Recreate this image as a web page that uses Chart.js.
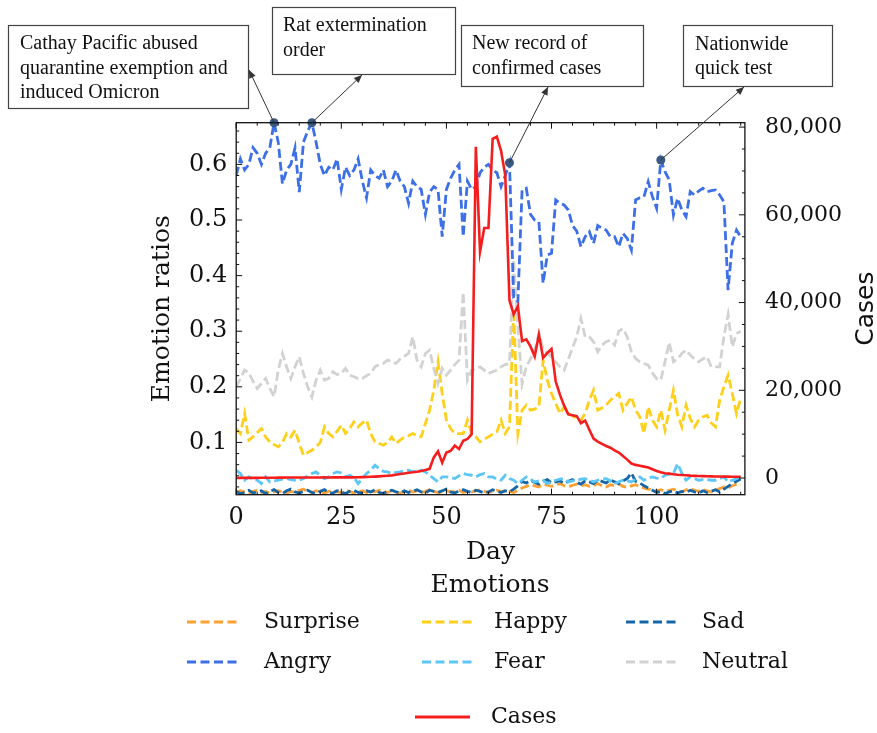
<!DOCTYPE html>
<html>
<head>
<meta charset="utf-8">
<script src="https://cdn.jsdelivr.net/npm/chart.js@4.4.0/dist/chart.umd.min.js"></script>
<style>
  html, body { margin: 0; padding: 0; background: #fff; }
  #wrap { width: 877px; height: 733px; }
</style>
</head>
<body>
<div id="wrap"><canvas id="emotionChart" width="877" height="733"></canvas></div>
<script>
const days = [
    0, 1, 2, 3, 4, 5, 6, 7, 8, 9, 10, 11, 12, 13, 14, 15, 16, 17, 18, 19,
    20, 21, 22, 23, 24, 25, 26, 27, 28, 29, 30, 31, 32, 33, 34, 35, 36, 37, 38, 39,
    40, 41, 42, 43, 44, 45, 46, 47, 48, 49, 50, 51, 52, 53, 54, 55, 56, 57, 58, 59,
    60, 61, 62, 63, 64, 65, 66, 67, 68, 69, 70, 71, 72, 73, 74, 75, 76, 77, 78, 79,
    80, 81, 82, 83, 84, 85, 86, 87, 88, 89, 90, 91, 92, 93, 94, 95, 96, 97, 98, 99,
    100, 101, 102, 103, 104, 105, 106, 107, 108, 109, 110, 111, 112, 113, 114, 115, 116, 117, 118, 119, 120
];

const cases = [
    20, 25, 30, 35, 40, 45, 55, 60, 70, 80,
    90, 100, 110, 120, 120, 130, 120, 110, 120, 130,
    130, 140, 130, 140, 150, 150, 160, 150, 160, 170,
    200, 240, 280, 330, 380, 450, 520, 600, 750, 900,
    1050, 1200, 1300, 1450, 1600, 1850, 2100, 4700, 6100, 3500,
    5800, 6200, 7400, 6600, 8500, 8900, 10000, 75500, 51600, 57000,
    57000, 77300, 77800, 74600, 69000, 40500, 37300, 39200, 31200, 31600,
    30000, 27700, 32700, 27400, 28500, 29400, 22000, 19000, 16500, 14500,
    14300, 14100, 12500, 13100, 11000, 9000, 8300, 7800, 7300, 6900,
    6300, 5800, 5000, 4200, 3300, 3000, 2800, 2600, 2400, 2000,
    1600, 1300, 1100, 1000, 850, 750, 700, 650, 550, 500,
    460, 430, 400, 380, 360, 340, 330, 310, 300, 290, 280
];

const angry = [
    0.58, 0.61, 0.59, 0.60, 0.63, 0.62, 0.60, 0.62, 0.63, 0.675,
    0.64, 0.565, 0.59, 0.60, 0.63, 0.55, 0.64, 0.66, 0.675, 0.64,
    0.60, 0.58, 0.595, 0.59, 0.61, 0.555, 0.595, 0.58, 0.59, 0.61,
    0.57, 0.54, 0.59, 0.58, 0.575, 0.59, 0.56, 0.57, 0.59, 0.57,
    0.56, 0.53, 0.57, 0.56, 0.555, 0.51, 0.55, 0.56, 0.555, 0.47,
    0.555, 0.575, 0.59, 0.60, 0.47, 0.57, 0.555, 0.56, 0.585, 0.595,
    0.60, 0.59, 0.585, 0.56, 0.58, 0.603, 0.36, 0.353, 0.554, 0.557,
    0.51, 0.50, 0.497, 0.386, 0.437, 0.44, 0.536, 0.53, 0.527, 0.518,
    0.49, 0.48, 0.452, 0.47, 0.479, 0.458, 0.49, 0.485, 0.482, 0.47,
    0.47, 0.452, 0.476, 0.467, 0.446, 0.536, 0.54, 0.542, 0.569, 0.542,
    0.521, 0.608, 0.587, 0.572, 0.509, 0.539, 0.518, 0.506, 0.551, 0.545,
    0.552, 0.557, 0.551, 0.553, 0.554, 0.545, 0.533, 0.374, 0.458, 0.482, 0.47
];

const neutral = [
    0.20, 0.215, 0.23, 0.225, 0.21, 0.197, 0.206, 0.215, 0.197, 0.182,
    0.23, 0.26, 0.236, 0.215, 0.236, 0.254, 0.224, 0.20, 0.182, 0.212,
    0.23, 0.212, 0.215, 0.227, 0.222, 0.224, 0.233, 0.221, 0.218, 0.215,
    0.215, 0.22, 0.224, 0.236, 0.24, 0.242, 0.248, 0.245, 0.242, 0.25,
    0.255, 0.26, 0.29, 0.248, 0.236, 0.26, 0.266, 0.233, 0.206, 0.233,
    0.221, 0.23, 0.24, 0.248, 0.37, 0.212, 0.23, 0.232, 0.236, 0.23,
    0.224, 0.227, 0.23, 0.236, 0.24, 0.242, 0.43, 0.308, 0.206, 0.236,
    0.25, 0.266, 0.296, 0.269, 0.26, 0.254, 0.245, 0.236, 0.23, 0.25,
    0.27, 0.29, 0.323, 0.29, 0.29, 0.281, 0.263, 0.275, 0.281, 0.284,
    0.275, 0.30, 0.305, 0.29, 0.263, 0.251, 0.245, 0.242, 0.239, 0.225,
    0.215, 0.212, 0.245, 0.28, 0.245, 0.25, 0.26, 0.266, 0.257, 0.25,
    0.245, 0.25, 0.254, 0.236, 0.236, 0.236, 0.29, 0.33, 0.272, 0.296, 0.30
];

const happy = [
    0.125, 0.116, 0.152, 0.104, 0.11, 0.118, 0.125, 0.11, 0.101, 0.096,
    0.092, 0.10, 0.116, 0.11, 0.122, 0.098, 0.077, 0.082, 0.086, 0.092,
    0.10, 0.128, 0.116, 0.11, 0.12, 0.131, 0.116, 0.125, 0.137, 0.128,
    0.135, 0.14, 0.116, 0.101, 0.098, 0.095, 0.10, 0.11, 0.098, 0.104,
    0.11, 0.112, 0.116, 0.112, 0.11, 0.134, 0.158, 0.194, 0.245, 0.188,
    0.14, 0.125, 0.116, 0.116, 0.116, 0.14, 0.116, 0.11, 0.101, 0.106,
    0.11, 0.115, 0.119, 0.14, 0.116, 0.128, 0.34, 0.116, 0.158, 0.167,
    0.158, 0.16, 0.164, 0.248, 0.212, 0.188, 0.17, 0.152, 0.164, 0.152,
    0.148, 0.143, 0.14, 0.152, 0.176, 0.194, 0.158, 0.162, 0.167, 0.176,
    0.182, 0.188, 0.158, 0.17, 0.182, 0.158, 0.146, 0.116, 0.164, 0.14,
    0.128, 0.158, 0.122, 0.158, 0.194, 0.15, 0.128, 0.167, 0.143, 0.128,
    0.14, 0.146, 0.149, 0.135, 0.128, 0.176, 0.20, 0.221, 0.188, 0.152, 0.179
];

const fear = [
    0.05, 0.044, 0.032, 0.038, 0.034, 0.032, 0.026, 0.038, 0.029, 0.031,
    0.032, 0.034, 0.035, 0.033, 0.032, 0.032, 0.035, 0.04, 0.044, 0.047,
    0.04, 0.035, 0.038, 0.044, 0.047, 0.045, 0.038, 0.041, 0.037, 0.026,
    0.035, 0.044, 0.05, 0.059, 0.053, 0.048, 0.047, 0.044, 0.046, 0.047,
    0.049, 0.05, 0.047, 0.049, 0.05, 0.047, 0.041, 0.035, 0.029, 0.038,
    0.038, 0.037, 0.035, 0.04, 0.044, 0.042, 0.041, 0.038, 0.042, 0.044,
    0.038, 0.038, 0.034, 0.032, 0.041, 0.035, 0.032, 0.026, 0.032, 0.038,
    0.034, 0.029, 0.031, 0.032, 0.026, 0.029, 0.032, 0.034, 0.035, 0.029,
    0.031, 0.032, 0.034, 0.035, 0.032, 0.029, 0.032, 0.034, 0.035, 0.031,
    0.026, 0.029, 0.032, 0.031, 0.029, 0.034, 0.038, 0.032, 0.036, 0.038,
    0.036, 0.035, 0.041, 0.043, 0.044, 0.062, 0.045, 0.032, 0.038, 0.035,
    0.032, 0.033, 0.033, 0.032, 0.032, 0.035, 0.038, 0.029, 0.032, 0.035, 0.038
];

const sad = [
    0.012, 0.008, 0.01, 0.014, 0.009, 0.011, 0.013, 0.008, 0.012, 0.015,
    0.01, 0.008, 0.013, 0.016, 0.011, 0.009, 0.012, 0.014, 0.01, 0.008,
    0.012, 0.015, 0.01, 0.009, 0.013, 0.011, 0.008, 0.012, 0.014, 0.01,
    0.009, 0.013, 0.011, 0.015, 0.01, 0.008, 0.012, 0.014, 0.011, 0.009,
    0.013, 0.01, 0.012, 0.015, 0.011, 0.009, 0.014, 0.012, 0.01, 0.013,
    0.016, 0.011, 0.009, 0.013, 0.015, 0.012, 0.01, 0.014, 0.012, 0.009,
    0.011, 0.015, 0.012, 0.01, 0.013, 0.011, 0.016, 0.022, 0.03, 0.027,
    0.032, 0.028, 0.025, 0.03, 0.033, 0.027, 0.029, 0.031, 0.026, 0.03,
    0.033, 0.028, 0.025, 0.031, 0.029, 0.026, 0.032, 0.03, 0.027, 0.033,
    0.029, 0.026, 0.031, 0.035, 0.045, 0.03, 0.027, 0.022, 0.018, 0.014,
    0.01, 0.012, 0.008, 0.011, 0.013, 0.009, 0.012, 0.01, 0.014, 0.011,
    0.009, 0.013, 0.01, 0.012, 0.015, 0.011, 0.016, 0.021, 0.026, 0.03, 0.034
];

const surprise = [
    0.01, 0.013, 0.011, 0.009, 0.012, 0.014, 0.01, 0.012, 0.009, 0.011,
    0.013, 0.011, 0.009, 0.012, 0.01, 0.014, 0.016, 0.012, 0.01, 0.013,
    0.011, 0.009, 0.012, 0.014, 0.011, 0.01, 0.013, 0.012, 0.009, 0.011,
    0.013, 0.01, 0.012, 0.011, 0.014, 0.012, 0.01, 0.013, 0.011, 0.009,
    0.012, 0.014, 0.011, 0.013, 0.01, 0.012, 0.015, 0.012, 0.01, 0.011,
    0.013, 0.011, 0.012, 0.014, 0.01, 0.012, 0.011, 0.013, 0.015, 0.012,
    0.01, 0.012, 0.014, 0.011, 0.013, 0.012, 0.01, 0.014, 0.018, 0.021,
    0.024, 0.022, 0.02, 0.025, 0.023, 0.021, 0.024, 0.026, 0.022, 0.02,
    0.023, 0.025, 0.022, 0.024, 0.021, 0.023, 0.026, 0.022, 0.02, 0.024,
    0.022, 0.025, 0.021, 0.019, 0.022, 0.024, 0.02, 0.018, 0.016, 0.015,
    0.013, 0.015, 0.012, 0.014, 0.016, 0.013, 0.011, 0.015, 0.017, 0.014,
    0.012, 0.015, 0.013, 0.011, 0.014, 0.017, 0.02, 0.018, 0.022, 0.025, 0.023
];

// annotated events (on the Angry curve)
const eventDays = [9, 18, 65, 101];
const eventValues = [0.675, 0.675, 0.603, 0.608];
const eventTexts = [
    ['Cathay Pacific abused', 'quarantine exemption and', 'induced Omicron'],
    ['Rat extermination', 'order'],
    ['New record of', 'confirmed cases'],
    ['Nationwide', 'quick test']
];

const dayTicks = [0, 25, 50, 75, 100];
const ratioTicks = [0.1, 0.2, 0.3, 0.4, 0.5, 0.6];
const caseTicks = [0, 20000, 40000, 60000, 80000];

const colors = {
    surprise: '#ffa033', happy: '#ffcf1a', sad: '#1566a8',
    angry: '#3d6fe6', fear: '#5cc6f7', neutral: '#d2d2d2',
    cases: '#f51d1d', event: '#3a5a84'
};

const pts = arr => days.map((d, i) => ({ x: d, y: arr[i] }));

function emotion(label, arr, color) {
    return {
        label: label, data: pts(arr), yAxisID: 'y',
        borderColor: color, borderWidth: 2.8, borderDash: [9, 4],
        pointRadius: 0, tension: 0, fill: false
    };
}

// boxes + arrows for the events
const eventBoxes = [
    { x: 8, y: 25, w: 240, h: 83, tx: 20, lines: [44, 68.5, 93], tip: [249, 70] },
    { x: 272, y: 7, w: 183, h: 67, tx: 283, lines: [26, 51], tip: [362, 75] },
    { x: 461, y: 25, w: 182, h: 61, tx: 472, lines: [44, 69], tip: [548, 87] },
    { x: 683, y: 25, w: 149, h: 61, tx: 695, lines: [45, 69], tip: [744, 87] }
];

const annotationPlugin = {
    id: 'annotations',
    afterDraw(chart) {
        const { ctx, scales: { x, y } } = chart;
        ctx.save();
        eventBoxes.forEach((b, i) => {
            const px = x.getPixelForValue(eventDays[i]);
            const py = y.getPixelForValue(eventValues[i]);
            const [tx, ty] = b.tip;
            ctx.strokeStyle = '#333';
            ctx.fillStyle = '#333';
            ctx.lineWidth = 1;
            ctx.beginPath();
            ctx.moveTo(px, py);
            ctx.lineTo(tx, ty);
            ctx.stroke();
            const ang = Math.atan2(ty - py, tx - px);
            ctx.beginPath();
            ctx.moveTo(tx, ty);
            ctx.lineTo(tx - 8 * Math.cos(ang) + 3.5 * Math.sin(ang), ty - 8 * Math.sin(ang) - 3.5 * Math.cos(ang));
            ctx.lineTo(tx - 8 * Math.cos(ang) - 3.5 * Math.sin(ang), ty - 8 * Math.sin(ang) + 3.5 * Math.cos(ang));
            ctx.closePath();
            ctx.fill();

            ctx.fillStyle = '#fff';
            ctx.fillRect(b.x, b.y, b.w, b.h);
            ctx.strokeStyle = '#444';
            ctx.lineWidth = 1.2;
            ctx.strokeRect(b.x + 0.5, b.y + 0.5, b.w, b.h);
            ctx.fillStyle = '#111';
            ctx.font = '20px "Liberation Serif"';
            ctx.textAlign = 'left';
            ctx.textBaseline = 'middle';
            eventTexts[i].forEach((t, j) => ctx.fillText(t, b.tx, b.lines[j]));
        });
        ctx.restore();
    }
};

// matplotlib-like frame with inward ticks on all four sides
const framePlugin = {
    id: 'frame',
    afterDatasetsDraw(chart) {
        const { ctx, chartArea: a, scales: { x, y, y2 } } = chart;
        ctx.save();
        ctx.strokeStyle = '#111';
        ctx.lineWidth = 1.3;
        ctx.strokeRect(a.left, a.top, a.right - a.left, a.bottom - a.top);
        ctx.lineWidth = 1;
        const seg = (x1, y1, x2, y2) => { ctx.beginPath(); ctx.moveTo(x1, y1); ctx.lineTo(x2, y2); ctx.stroke(); };
        for (let d = 0; d <= 120; d += 5) {
            const px = x.getPixelForValue(d);
            const len = d % 25 === 0 ? 6 : 3;
            seg(px, a.bottom, px, a.bottom - len);
            seg(px, a.top, px, a.top + len);
        }
        for (let v = 0.02; v < 0.67; v += 0.02) {
            const py = y.getPixelForValue(v);
            const len = Math.abs(v * 10 - Math.round(v * 10)) < 0.01 ? 6 : 3;
            seg(a.left, py, a.left + len, py);
        }
        for (let c = 0; c <= 80000; c += 5000) {
            const py = y2.getPixelForValue(c);
            const len = c % 20000 === 0 ? 6 : 3;
            seg(a.right, py, a.right - len, py);
        }
        ctx.restore();
    }
};

const legendSlots = { Surprise: [0, 0], Happy: [1, 0], Sad: [2, 0], Angry: [0, 1], Fear: [1, 1], Neutral: [2, 1] };

const legendPlugin = {
    id: 'customLegend',
    afterDraw(chart) {
        const { ctx, chartArea: a } = chart;
        const colLine = [187, 422, 626];
        const colText = [264, 494, 702];
        const rowY = [622, 662];
        ctx.save();
        ctx.fillStyle = '#111';
        ctx.textBaseline = 'middle';
        ctx.textAlign = 'center';
        ctx.font = '25px "DejaVu Serif"';
        ctx.fillText('Emotions', 490, 585);

        // right axis title, reads bottom to top
        ctx.save();
        ctx.font = '25px "DejaVu Sans"';
        ctx.translate(866, (a.top + a.bottom) / 2);
        ctx.rotate(-Math.PI / 2);
        ctx.fillText('Cases', 0, 0);
        ctx.restore();

        ctx.textAlign = 'left';
        ctx.font = '22px "DejaVu Serif"';
        chart.data.datasets.forEach(ds => {
            if (ds.label === 'Cases') {
                ctx.strokeStyle = ds.borderColor;
                ctx.lineWidth = 3;
                ctx.setLineDash([]);
                ctx.beginPath(); ctx.moveTo(415, 717); ctx.lineTo(470, 717); ctx.stroke();
                ctx.fillText('Cases', 491, 717);
                return;
            }
            const slot = legendSlots[ds.label];
            if (!slot) return;
            const [c, r] = slot;
            ctx.strokeStyle = ds.borderColor;
            ctx.lineWidth = 3;
            ctx.setLineDash([9, 4.5]);
            ctx.beginPath(); ctx.moveTo(colLine[c], rowY[r]); ctx.lineTo(colLine[c] + 50, rowY[r]); ctx.stroke();
            ctx.setLineDash([]);
            ctx.fillText(ds.label, colText[c], rowY[r]);
        });
        ctx.restore();
    }
};

const tickFont = { family: 'DejaVu Serif', size: 24 };

new Chart(document.getElementById('emotionChart'), {
    type: 'line',
    data: {
        datasets: [
            {
                label: 'events', data: eventDays.map((d, i) => ({ x: d, y: eventValues[i] })), yAxisID: 'y',
                showLine: false, pointRadius: 4.5, pointBackgroundColor: colors.event,
                pointBorderWidth: 0, clip: false
            },
            {
                label: 'Cases', data: pts(cases), yAxisID: 'y2',
                borderColor: colors.cases, borderWidth: 2.6, pointRadius: 0, tension: 0, fill: false
            },
            emotion('Angry', angry, colors.angry),
            emotion('Neutral', neutral, colors.neutral),
            emotion('Happy', happy, colors.happy),
            emotion('Fear', fear, colors.fear),
            emotion('Sad', sad, colors.sad),
            emotion('Surprise', surprise, colors.surprise)
        ]
    },
    options: {
        responsive: false,
        animation: false,
        devicePixelRatio: 1,
        layout: { padding: { top: 122.7, left: 0, right: 0, bottom: 0 } },
        plugins: { legend: { display: false }, tooltip: { enabled: false } },
        scales: {
            x: {
                type: 'linear', min: 0, max: 121,
                afterBuildTicks: s => { s.ticks = dayTicks.map(v => ({ value: v })); },
                afterFit: s => { s.height = 238.3; },
                grid: { display: false, drawTicks: false },
                border: { display: false },
                ticks: { font: tickFont, color: '#111', padding: 9 },
                title: {
                    display: true, text: 'Day', color: '#111',
                    font: { family: 'DejaVu Serif', size: 25 },
                    padding: { top: 0, bottom: 166 }
                }
            },
            y: {
                position: 'left', min: 0.006, max: 0.675,
                afterBuildTicks: s => { s.ticks = ratioTicks.map(v => ({ value: v })); },
                afterFit: s => { s.width = 236.2; },
                grid: { display: false, drawTicks: false },
                border: { display: false },
                ticks: { font: tickFont, color: '#111', padding: 9, callback: v => v.toFixed(1) },
                title: {
                    display: true, text: 'Emotion ratios', color: '#111',
                    font: { family: 'DejaVu Serif', size: 25 },
                    padding: { top: 147, bottom: 0 }
                }
            },
            y2: {
                position: 'right', min: -3800, max: 81000,
                afterBuildTicks: s => { s.ticks = caseTicks.map(v => ({ value: v })); },
                afterFit: s => { s.width = 132.1; },
                grid: { display: false, drawTicks: false },
                border: { display: false },
                ticks: { font: { family: 'DejaVu Serif', size: 22 }, color: '#111', padding: 20, callback: v => v.toLocaleString('en-US') }
            }
        }
    },
    plugins: [framePlugin, annotationPlugin, legendPlugin]
});
</script>
</body>
</html>
